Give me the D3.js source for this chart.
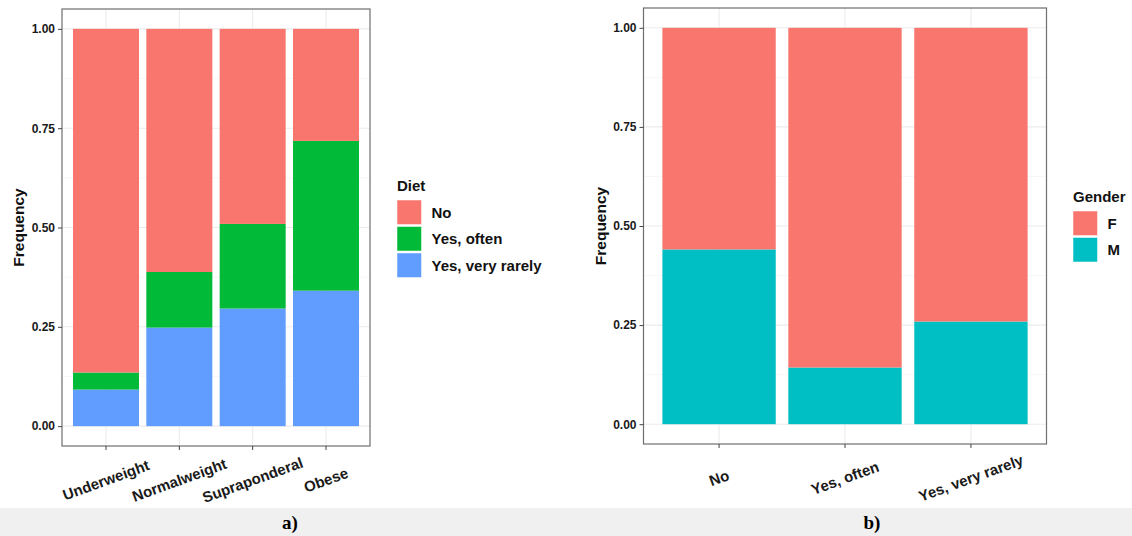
<!DOCTYPE html>
<html>
<head>
<meta charset="utf-8">
<script src="https://cdn.jsdelivr.net/npm/d3@7"></script>
<style>
  body { margin: 0; background: #fff; }
  svg { display: block; font-family: Arial, "Liberation Sans", sans-serif; }
  .tick text { font-size: 12px; font-weight: bold; fill: #1a1a1a; }
  .tick line { stroke: #444; }
  .domain { display: none; }
</style>
</head>
<body>
<div id="chart"></div>
<script>
// ---- data ----
const weightCats = ["Underweight", "Normalweight", "Supraponderal", "Obese"];
const dietKeys = ["No", "Yes, often", "Yes, very rarely"];
const dietNo = [0.865, 0.612, 0.491, 0.282];
const dietOften = [0.043, 0.140, 0.213, 0.377];
const dietRarely = [0.092, 0.248, 0.296, 0.341];

const dietCats = ["No", "Yes, often", "Yes, very rarely"];
const genderKeys = ["F", "M"];
const genderF = [0.559, 0.857, 0.741];
const genderM = [0.441, 0.143, 0.259];

const yTicks = [0, 0.25, 0.5, 0.75, 1];
const yMinor = [0.125, 0.375, 0.625, 0.875];

const W = 1132, H = 536;
const svg = d3.select("#chart").append("svg")
    .attr("width", W)
    .attr("height", H);

// draws one ggplot-ish stacked proportion panel
function drawPanel(opt) {
    const x = d3.scaleBand()
        .domain(opt.cats)
        .range([opt.left, opt.right])
        .paddingInner(0.1)
        .paddingOuter(0.15);
    const y = d3.scaleLinear()
        .domain([-0.05, 1.05])
        .range([opt.bottom, opt.top]);

    const g = svg.append("g");

    // grid
    g.selectAll(".minor").data(yMinor).join("line")
        .attr("x1", opt.left).attr("x2", opt.right)
        .attr("y1", d => y(d)).attr("y2", d => y(d))
        .attr("stroke", "#f2f2f2").attr("stroke-width", 0.6);
    g.selectAll(".major").data(yTicks).join("line")
        .attr("x1", opt.left).attr("x2", opt.right)
        .attr("y1", d => y(d)).attr("y2", d => y(d))
        .attr("stroke", "#ebebeb").attr("stroke-width", 1.1);
    g.selectAll(".vmajor").data(opt.cats).join("line")
        .attr("x1", d => x(d) + x.bandwidth() / 2).attr("x2", d => x(d) + x.bandwidth() / 2)
        .attr("y1", opt.top).attr("y2", opt.bottom)
        .attr("stroke", "#ebebeb").attr("stroke-width", 1.1);

    // bars
    const rows = opt.cats.map((c, i) => {
        const r = {cat: c};
        opt.keys.forEach((k, j) => r[k] = opt.series[j][i]);
        return r;
    });
    const stacked = d3.stack().keys(opt.stackOrder)(rows);
    g.selectAll(".layer").data(stacked).join("g")
        .attr("fill", d => opt.color(d.key))
        .selectAll("rect").data(d => d).join("rect")
        .attr("x", d => x(d.data.cat))
        .attr("width", x.bandwidth())
        .attr("y", d => y(d[1]))
        .attr("height", d => y(d[0]) - y(d[1]));

    // border
    g.append("rect")
        .attr("x", opt.left).attr("y", opt.top)
        .attr("width", opt.right - opt.left).attr("height", opt.bottom - opt.top)
        .attr("fill", "none").attr("stroke", "#6e6e6e").attr("stroke-width", 1.2);

    // axes
    g.append("g")
        .attr("transform", "translate(" + opt.left + ",0)")
        .call(d3.axisLeft(y).tickValues(yTicks).tickFormat(d3.format(".2f")).tickSize(4).tickPadding(3));

    const xa = g.append("g")
        .attr("transform", "translate(0," + opt.bottom + ")")
        .call(d3.axisBottom(x).tickSize(4));
    xa.selectAll("text")
        .attr("y", 0).attr("dy", "0.35em")
        .attr("transform", "translate(0,34) rotate(-20)")
        .style("font-size", "15px")
        .attr("text-anchor", "middle");

    // y title
    svg.append("text")
        .attr("transform", "translate(" + opt.ytitleX + "," + (opt.top + opt.bottom) / 2 + ") rotate(-90)")
        .attr("text-anchor", "middle")
        .attr("dy", "0.35em")
        .attr("font-size", 15.5)
        .attr("font-weight", "bold")
        .attr("fill", "#111")
        .text("Frequency");

    // legend
    const lg = svg.append("g").attr("transform", "translate(" + opt.legendX + "," + opt.legendY + ")");
    lg.append("text")
        .attr("y", -9)
        .attr("font-size", 15)
        .attr("font-weight", "bold")
        .attr("fill", "#111")
        .text(opt.legendTitle);
    opt.keys.forEach((k, i) => {
        lg.append("rect")
            .attr("x", 0).attr("y", i * 26.5)
            .attr("width", 24.5).attr("height", 24.5)
            .attr("fill", opt.color(k))
            .attr("stroke", "#fff").attr("stroke-width", 0.5);
        lg.append("text")
            .attr("x", 34.5).attr("y", i * 26.5 + 12.5)
            .attr("dy", "0.35em")
            .attr("font-size", 15)
            .attr("font-weight", "bold")
            .attr("fill", "#111")
            .text(k);
    });
}

const dietColor = d3.scaleOrdinal().domain(dietKeys).range(["#F8766D", "#00BA38", "#619CFF"]);
const genderColor = d3.scaleOrdinal().domain(genderKeys).range(["#F8766D", "#00BFC4"]);

drawPanel({
    cats: weightCats, keys: dietKeys, series: [dietNo, dietOften, dietRarely],
    stackOrder: ["Yes, very rarely", "Yes, often", "No"],
    color: dietColor,
    left: 62, right: 370, top: 9, bottom: 446,
    ytitleX: 19, legendX: 397, legendY: 200, legendTitle: "Diet"
});

drawPanel({
    cats: dietCats, keys: genderKeys, series: [genderF, genderM],
    stackOrder: ["M", "F"],
    color: genderColor,
    left: 643.5, right: 1046.5, top: 8, bottom: 444,
    ytitleX: 601, legendX: 1073, legendY: 211, legendTitle: "Gender"
});

// caption band
svg.append("rect")
    .attr("x", 0).attr("y", 508)
    .attr("width", W).attr("height", H - 508)
    .attr("fill", "#f0f0f0");
const captions = [{t: "a)", x: 290}, {t: "b)", x: 872}];
svg.selectAll(".cap").data(captions).join("text")
    .attr("x", d => d.x).attr("y", 529)
    .attr("text-anchor", "middle")
    .attr("font-family", "'Times New Roman', 'Liberation Serif', serif")
    .attr("font-weight", "bold")
    .attr("font-size", 19)
    .attr("fill", "#000")
    .text(d => d.t);
</script>
</body>
</html>
